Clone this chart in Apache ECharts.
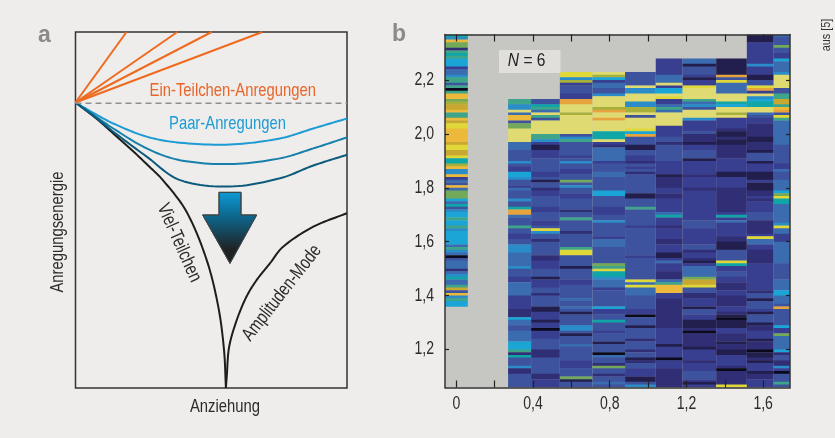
<!DOCTYPE html>
<html><head><meta charset="utf-8">
<style>html,body{margin:0;padding:0;background:#eeedeb}#c{width:835px;height:438px;filter:blur(0.35px)}</style>
<script src="https://cdn.jsdelivr.net/npm/echarts@6/dist/echarts.min.js"></script>
</head><body><div id="c"></div>
<script>
// Panel a: schematic curves, x = Anziehung 0..1, y = Anregungsenergie 0..1
const orange1 = [[0,0.802],[0.188,1]];
const orange2 = [[0,0.802],[0.375,1]];
const orange3 = [[0,0.802],[0.5015,1]];
const orange4 = [[0,0.802],[0.688,1]];
const threshold = [[0,0.80],[1,0.80]];
const pair1 = [[0,0.802],[0.072,0.770],[0.139,0.743],[0.262,0.706],[0.385,0.689],[0.569,0.684],[0.753,0.701],[0.876,0.729],[1,0.757]];
const pair2 = [[0,0.802],[0.072,0.764],[0.139,0.729],[0.262,0.673],[0.385,0.640],[0.569,0.629],[0.753,0.645],[0.876,0.673],[1,0.704]];
const pair3 = [[0,0.802],[0.072,0.761],[0.139,0.720],[0.262,0.650],[0.385,0.584],[0.569,0.566],[0.753,0.589],[0.876,0.625],[1,0.655]];
const manyBody = [[0,0.802],[0.072,0.760],[0.139,0.715],[0.201,0.673],[0.262,0.629],[0.324,0.582],[0.409,0.495],[0.483,0.360],[0.526,0.228],[0.547,0.107],[0.554,0]];
const amplitude = [[0.554,0],[0.557,0.032],[0.566,0.116],[0.594,0.191],[0.63,0.257],[0.667,0.303],[0.716,0.350],[0.765,0.397],[0.876,0.453],[1,0.491]];
const arrowShape = [[0.5286,0.5496],[0.6096,0.5496],[0.6096,0.486],[0.6673,0.486],[0.569,0.350],[0.4684,0.486],[0.5286,0.486]];

// Panel b: attraction column edges and, per column, [upper energy, level, ...], closing with [lower end, null]
const xEdges = [-0.059,0.06,0.27,0.39,0.54,0.71,0.88,1.04,1.18,1.355,1.515,1.655,1.74];
const xTicks = [0,0.2,0.4,0.6,0.8,1.0,1.2,1.4,1.6];
const xLabels = [0,0.4,0.8,1.2,1.6];
const yTicks = [1.2,1.4,1.6,1.8,2.0,2.2];
const col0 = [2.37,8,2.36,6,2.35,14,2.34,10,2.32,2,2.31,9,2.30,8,2.29,9,2.28,7,2.25,3,2.24,5,2.22,6,2.21,9,2.19,4,2.18,9,2.17,0,2.16,9,2.15,14,2.13,10,2.12,11,2.11,12,2.09,14,2.08,9,2.06,14,2.05,12,2.04,13,2.02,14,1.97,12,1.96,13,1.94,12,1.92,13,1.91,8,1.89,11,1.88,14,1.87,6,1.85,14,1.84,3,1.83,5,1.82,4,1.81,14,1.80,5,1.79,10,1.76,7,1.75,5,1.74,8,1.73,4,1.72,6,1.71,7,1.69,9,1.68,7,1.66,9,1.65,6,1.64,7,1.59,5,1.58,9,1.57,6,1.56,5,1.55,0,1.54,4,1.53,5,1.50,2,1.49,5,1.48,6,1.47,8,1.46,5,1.44,9,1.43,12,1.42,4,1.41,14,1.40,6,1.39,9,1.38,7,1.36,null];
const col1 = [2.13,9,2.11,6,2.09,16,2.08,5,2.07,14,2.05,4,2.04,10,2.02,16,1.97,5,1.94,4,1.90,6,1.89,4,1.88,3,1.86,7,1.84,6,1.83,4,1.81,3,1.80,5,1.79,4,1.76,6,1.75,4,1.73,8,1.72,15,1.70,5,1.69,4,1.66,9,1.65,4,1.63,3,1.61,4,1.59,6,1.56,5,1.51,6,1.50,4,1.47,3,1.45,5,1.40,3,1.35,2,1.32,7,1.31,5,1.29,4,1.27,5,1.23,7,1.20,9,1.19,2,1.18,8,1.17,4,1.14,6,1.13,2,1.11,4,1.05,null];
const col2 = [2.13,4,2.11,8,2.10,9,2.09,5,2.08,16,2.07,9,2.06,4,2.05,16,2.00,9,1.98,6,1.97,3,1.96,1,1.94,3,1.91,4,1.86,3,1.84,4,1.83,1,1.82,4,1.80,2,1.79,3,1.77,4,1.73,3,1.71,4,1.68,3,1.66,4,1.65,13,1.64,6,1.63,4,1.61,2,1.60,4,1.55,2,1.53,3,1.50,4,1.47,1,1.46,3,1.43,4,1.41,2,1.40,4,1.36,1,1.34,3,1.31,1,1.30,3,1.28,0,1.27,3,1.24,4,1.20,2,1.17,4,1.11,2,1.09,3,1.05,null];
const col3 = [2.23,13,2.21,6,2.20,11,2.19,3,2.18,4,2.15,3,2.13,15,2.11,16,2.08,11,2.07,16,2.00,4,1.99,6,1.98,9,1.97,4,1.92,3,1.91,4,1.90,6,1.89,4,1.87,3,1.85,4,1.83,10,1.82,4,1.81,6,1.80,4,1.78,3,1.76,4,1.72,2,1.71,4,1.69,9,1.68,4,1.64,2,1.63,4,1.58,9,1.57,13,1.55,4,1.51,1,1.50,4,1.46,3,1.44,4,1.39,5,1.38,4,1.36,5,1.35,4,1.34,1,1.33,4,1.29,6,1.27,4,1.26,1,1.25,4,1.22,5,1.21,4,1.16,3,1.13,4,1.10,10,1.09,1,1.08,4,1.05,null];
const col4 = [2.23,16,2.22,11,2.21,7,2.20,3,2.19,5,2.17,4,2.15,6,2.14,16,2.10,11,2.09,15,2.08,16,2.06,15,2.05,16,2.01,8,1.98,16,1.97,3,1.96,2,1.95,5,1.90,3,1.89,4,1.86,5,1.84,4,1.79,7,1.77,4,1.73,3,1.70,4,1.68,6,1.67,4,1.62,3,1.61,5,1.58,4,1.52,10,1.51,9,1.50,13,1.49,8,1.47,6,1.46,5,1.43,3,1.42,4,1.36,7,1.35,3,1.33,4,1.31,8,1.30,4,1.27,3,1.26,4,1.23,1,1.22,4,1.19,0,1.18,5,1.17,4,1.15,2,1.14,10,1.13,4,1.11,2,1.10,4,1.08,5,1.07,4,1.05,null];
const col5 = [2.23,4,2.18,16,2.17,6,2.15,16,2.12,6,2.10,11,2.08,16,2.07,4,2.06,16,2.02,13,2.01,7,2.00,15,1.99,4,1.96,1,1.94,4,1.92,3,1.90,2,1.89,4,1.88,3,1.87,4,1.86,2,1.85,4,1.78,1,1.76,4,1.73,9,1.72,4,1.66,3,1.65,4,1.55,3,1.54,4,1.46,13,1.45,5,1.44,13,1.43,5,1.40,4,1.35,3,1.33,0,1.32,4,1.29,1,1.28,4,1.24,2,1.23,4,1.20,2,1.19,4,1.17,1,1.16,2,1.15,4,1.13,3,1.10,1,1.08,4,1.07,6,1.05,null];
const col6 = [2.28,3,2.22,5,2.19,16,2.18,3,2.17,7,2.15,16,2.14,13,2.13,3,2.11,5,2.10,9,2.09,5,2.08,16,2.03,3,1.99,4,1.97,2,1.96,4,1.90,3,1.85,1,1.84,2,1.80,3,1.78,2,1.76,3,1.71,5,1.70,8,1.69,3,1.66,2,1.65,3,1.61,2,1.59,3,1.56,1,1.54,3,1.53,5,1.52,3,1.49,2,1.46,5,1.45,9,1.44,14,1.41,3,1.39,2,1.28,3,1.22,1,1.21,3,1.17,0,1.16,3,1.13,2,1.05,null];
const col7 = [2.28,5,2.26,1,2.25,4,2.22,3,2.21,1,2.20,3,2.18,13,2.17,16,2.13,9,2.12,5,2.11,6,2.10,4,2.09,16,2.06,6,2.05,3,2.01,4,2.00,2,1.97,1,1.96,3,1.94,4,1.91,1,1.90,3,1.85,2,1.84,3,1.80,2,1.79,3,1.68,4,1.65,3,1.59,4,1.57,2,1.56,3,1.54,2,1.53,1,1.52,3,1.51,5,1.47,10,1.46,12,1.44,13,1.43,4,1.41,2,1.39,3,1.36,1,1.35,4,1.33,3,1.31,1,1.28,2,1.27,0,1.26,2,1.21,1,1.20,3,1.16,2,1.15,3,1.12,4,1.09,3,1.08,1,1.07,3,1.05,null];
const col8 = [2.28,1,2.22,15,2.21,4,2.20,13,2.19,5,2.15,16,2.12,8,2.11,7,2.10,16,2.08,11,2.07,16,2.06,3,2.02,2,2.01,1,1.99,2,1.98,1,1.96,2,1.91,3,1.86,1,1.84,3,1.80,2,1.71,3,1.70,8,1.69,3,1.68,5,1.67,3,1.62,2,1.60,1,1.57,4,1.53,13,1.52,8,1.51,3,1.49,4,1.47,3,1.45,2,1.42,3,1.40,2,1.36,3,1.34,2,1.33,1,1.32,0,1.31,1,1.28,3,1.26,2,1.23,1,1.22,2,1.20,1,1.18,3,1.14,2,1.13,0,1.12,2,1.07,13,1.05,null];
const col9 = [2.37,1,2.34,3,2.26,6,2.25,3,2.22,1,2.20,4,2.18,13,2.17,15,2.16,3,2.15,16,2.14,6,2.13,7,2.12,8,2.10,16,2.08,5,2.07,4,2.06,3,2.04,2,1.99,1,1.97,2,1.94,1,1.93,4,1.90,1,1.89,3,1.86,1,1.83,3,1.82,1,1.79,2,1.77,3,1.76,2,1.75,3,1.71,4,1.68,2,1.63,3,1.62,13,1.61,5,1.59,3,1.57,2,1.52,3,1.42,2,1.41,4,1.39,1,1.38,4,1.35,3,1.34,1,1.33,4,1.30,1,1.29,2,1.27,3,1.24,1,1.23,2,1.20,0,1.19,1,1.17,2,1.16,1,1.15,3,1.12,1,1.11,2,1.09,3,1.05,null];
const col10 = [2.37,5,2.36,4,2.33,10,2.32,4,2.30,3,2.28,7,2.27,5,2.23,6,2.22,16,2.17,4,2.15,9,2.13,12,2.11,9,2.10,14,2.09,15,2.08,4,2.07,13,2.06,9,2.05,5,1.96,4,1.89,3,1.87,5,1.86,4,1.83,5,1.79,7,1.78,10,1.77,13,1.76,8,1.74,5,1.67,6,1.66,13,1.65,5,1.63,3,1.60,5,1.52,4,1.46,5,1.42,7,1.40,5,1.37,4,1.36,15,1.35,4,1.29,7,1.28,3,1.26,10,1.25,5,1.20,7,1.19,2,1.18,4,1.16,2,1.14,6,1.13,3,1.12,0,1.11,4,1.08,9,1.07,4,1.05,null];
const columns = [col0,col1,col2,col3,col4,col5,col6,col7,col8,col9,col10];
// gap between first and second column is left empty
const columnEdgeIndex = [0,2,3,4,5,6,7,8,9,10,11];
const levelColors = ['#0a0a1c','#221f4e','#302e74','#383e90','#3e539d','#3b6cb0','#2a8cc8','#1ba5d6','#10a6a8','#3ea58a','#72a95a','#a8b03c','#c8a830','#e0d838','#ecb93a','#e8a43c','#dfdb72'];

const cells = [];
columns.forEach((c,i)=>{
  const e = columnEdgeIndex[i];
  for(let k=0;k+2<c.length;k+=2){
    cells.push([xEdges[e],xEdges[e+1],c[k],c[k+2],c[k+1]]);
  }
});

const F = '"Liberation Sans",sans-serif';
const ink = '#2b2b2b';
const NARROW = 0.78;
const chart = echarts.init(document.getElementById('c'),null,{renderer:'canvas'});
function lineS(data,color,extra){
  return Object.assign({type:'line',xAxisIndex:0,yAxisIndex:0,data:data,symbol:'none',silent:true,
    lineStyle:{color:color,width:2},clip:true},extra||{});
}
// Hermite-style spline through the read points, in pixels obtained from the axes.
function spline(p){
  const out=[p[0]], n=p.length, dist=(a,b)=>Math.hypot(b[0]-a[0],b[1]-a[1]);
  const tan=i=>{
    const a=p[Math.max(i-1,0)], b=p[Math.min(i+1,n-1)], d=dist(a,b)||1;
    return [(b[0]-a[0])/d,(b[1]-a[1])/d];
  };
  for(let i=0;i<n-1;i++){
    const L=dist(p[i],p[i+1])/3, t0=tan(i), t1=tan(i+1);
    const c1=[p[i][0]+t0[0]*L,p[i][1]+t0[1]*L], c2=[p[i+1][0]-t1[0]*L,p[i+1][1]-t1[1]*L];
    for(let s=1;s<=12;s++){
      const t=s/12,u=1-t;
      out.push([0,1].map(k=>u*u*u*p[i][k]+3*u*u*t*c1[k]+3*u*t*t*c2[k]+t*t*t*p[i+1][k]));
    }
  }
  return out;
}
function curveS(data,color){
  return {type:'custom',xAxisIndex:0,yAxisIndex:0,data:data,silent:true,z:2,clip:true,encode:{x:0,y:1},
    renderItem:function(p,api){
      if(p.dataIndex!==0) return null;
      return {type:'polyline',shape:{points:spline(data.map(q=>api.coord(q)))},
        style:{stroke:color,lineWidth:2,fill:null,lineJoin:'round'}};
    }};
}
const tickStyle = {show:true,inside:true,lineStyle:{color:'#222',width:1.2}};
const frame = {show:true,onZero:false,lineStyle:{color:'#333',width:1.5}};
chart.setOption({
  animation:false,
  backgroundColor:'#eeedeb',
  textStyle:{fontFamily:F},
  grid:[
    {left:75.5,top:32,width:271.5,height:356,show:true,borderColor:'#333',borderWidth:1.5,backgroundColor:'transparent'},
    {left:445,top:34.5,width:345,height:353,show:true,borderWidth:0,backgroundColor:'#c6c6c2'}
  ],
  xAxis:[
    {gridIndex:0,type:'value',min:0,max:1,axisLine:{show:false},axisTick:{show:false},axisLabel:{show:false},splitLine:{show:false}},
    {gridIndex:1,type:'value',min:-0.059,max:1.74,z:5,axisLine:frame,
     axisTick:Object.assign({length:7,customValues:xTicks},tickStyle),splitLine:{show:false},axisLabel:{show:false}},
    {gridIndex:1,type:'value',position:'top',min:-0.059,max:1.74,z:5,axisLine:frame,
     axisTick:Object.assign({length:7,customValues:xTicks},tickStyle),axisLabel:{show:false},splitLine:{show:false}}
  ],
  yAxis:[
    {gridIndex:0,type:'value',min:0,max:1,axisLine:{show:false},axisTick:{show:false},axisLabel:{show:false},splitLine:{show:false}},
    {gridIndex:1,type:'value',min:1.059,max:2.369,z:5,axisLine:frame,
     axisTick:Object.assign({length:4,customValues:yTicks},tickStyle),splitLine:{show:false},axisLabel:{show:false}},
    {gridIndex:1,type:'value',position:'right',min:1.059,max:2.369,z:5,axisLine:frame,
     axisTick:Object.assign({length:4,customValues:yTicks},tickStyle),axisLabel:{show:false},splitLine:{show:false}}
  ],
  visualMap:{show:false,seriesIndex:9,dimension:4,min:0,max:16,inRange:{color:levelColors}},
  series:[
    lineS(orange1,'#ee6a1e'),lineS(orange2,'#ee6a1e'),lineS(orange3,'#ee6a1e'),lineS(orange4,'#ee6a1e'),
    lineS(threshold,'#8f8f8f',{lineStyle:{color:'#8f8f8f',width:1.5,type:[6,4]}}),
    curveS(manyBody,'#1d1d1b'),
    curveS(pair1,'#1c9bd4'),
    curveS(pair2,'#1780aa'),
    curveS(pair3,'#0c5a7c'),
    {type:'custom',xAxisIndex:1,yAxisIndex:1,data:cells,clip:true,silent:true,z:2,
     encode:{x:[0,1],y:[2,3]},
     renderItem:function(p,api){
       const a=api.coord([api.value(0),api.value(2)]), b=api.coord([api.value(1),api.value(3)]);
       return {type:'rect',shape:echarts.graphic.clipRectByRect(
          {x:a[0],y:a[1],width:b[0]-a[0],height:b[1]-a[1]+0.4},
          {x:p.coordSys.x,y:p.coordSys.y,width:p.coordSys.width,height:p.coordSys.height}),
          style:{fill:api.visual('color')}};
     }},
    curveS(amplitude,'#1d1d1b'),
    {type:'custom',xAxisIndex:0,yAxisIndex:0,data:arrowShape,silent:true,z:3,
     encode:{x:0,y:1},
     renderItem:function(p,api){
       if(p.dataIndex!==0) return null;
       const pts=arrowShape.map(q=>api.coord(q));
       return {type:'polygon',shape:{points:pts},style:{
         stroke:'#3c4447',lineWidth:1,
         fill:new echarts.graphic.LinearGradient(0,0,0,1,[
           {offset:0,color:'#0e9ad6'},{offset:0.32,color:'#0d6a91'},{offset:0.8,color:'#1f2223'},{offset:1,color:'#1f2223'}])}};
     }}
  ]
});

// Condensed labels: the installed fonts have no narrow cut, so real text is squeezed horizontally.
function label(text,x,y,size,fill,rot,scale,align){
  return {type:'text',x:x,y:y,rotation:(rot||0)*Math.PI/180,scaleX:scale||NARROW,z:20,
    style:{text:text,font:size+'px '+F,fill:fill,align:align||'center',verticalAlign:'middle'}};
}
const comma = v => v.toFixed(1).replace('.',',');
const bottomY = 404;
const tickTexts = [];
xLabels.forEach(v=>{
  const px = chart.convertToPixel({xAxisIndex:1},v);
  tickTexts.push(label(v===0?'0':comma(v),px,bottomY,18,ink));
});
yTicks.forEach(v=>{
  const py = chart.convertToPixel({yAxisIndex:1},v);
  tickTexts.push(label(comma(v),434,py,18,ink,0,NARROW,'right'));
});
chart.setOption({graphic:[
  {type:'text',x:38,y:24,style:{text:'a',font:'bold 23px '+F,fill:'#8a8a8a'}},
  {type:'text',x:392,y:23,style:{text:'b',font:'bold 23px '+F,fill:'#8a8a8a'}},
  label('Ein-Teilchen-Anregungen',232.8,90.5,19,'#e8652a'),
  label('Paar-Anregungen',227.5,124,19,'#1c9bd4'),
  label('Anregungsenergie',58,232,19,ink,90),
  label('Anziehung',225,407,19,ink),
  label('Viel-Teilchen',179,243,19,ink,-66),
  label('Amplituden-Mode',282,293,19,ink,52),
  {type:'rect',shape:{x:499,y:50,width:61.5,height:23},style:{fill:'#e0dfdc'},z:19},
  {type:'text',x:526.7,y:61,scaleX:0.82,z:21,style:{
    rich:{i:{fontFamily:F,fontStyle:'italic',fontSize:19,fill:'#222'},n:{fontFamily:F,fontSize:19,fill:'#222'}},
    text:'{i|N}{n| = 6}',align:'center',verticalAlign:'middle'}},
  label('aus [5]',827,35,12,'#333',90,0.9)
].concat(tickTexts)});
</script></body></html>
